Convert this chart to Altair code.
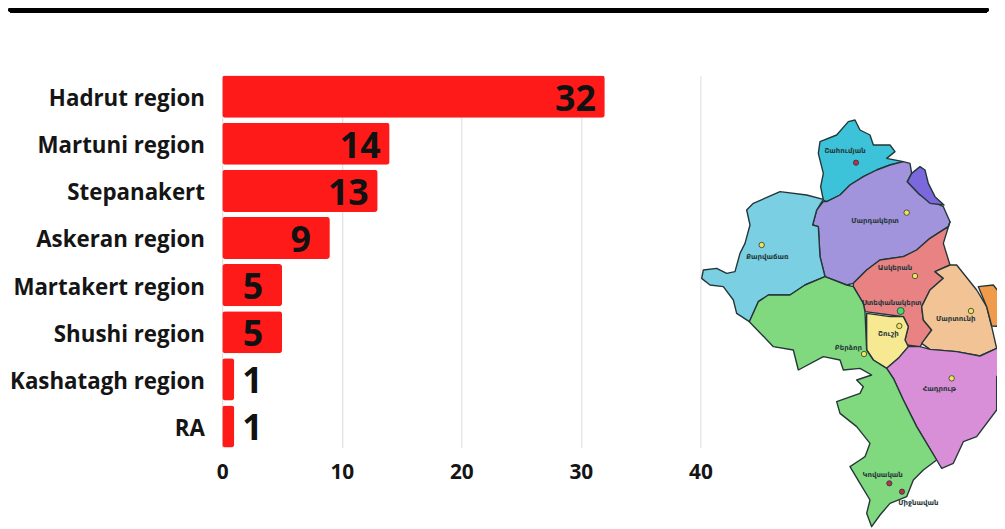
import altair as alt
import pandas as pd

categories = ["Hadrut region", "Martuni region", "Stepanakert", "Askeran region",
              "Martakert region", "Shushi region", "Kashatagh region", "RA"]
values = [32, 14, 13, 9, 5, 5, 1, 1]

# Map outlines as (x, y) in a 3x enlargement of the map area
region_names = ["Shahumyan", "Mardakert", "Karvachar", "Lake", "Askeran", "Martuni",
                "Outside", "Shushi", "Hadrut", "Kashatagh"]
region_colors = ["#3cc3d9", "#a293dd", "#7ad0e2", "#7a68dc", "#e98383", "#f2c394",
                 "#f09a4c", "#f6e992", "#d98fd8", "#81d97f"]
region_outlines = [
    [(400,270),(392,230),(400,190),(385,130),(390,95),(440,75),(475,35),(495,30),(510,60),(540,75),(550,105),(600,105),(615,125),(590,145),(640,155),(600,165),(560,180),(520,200),(480,225),(450,255),(410,275)],
    [(400,275),(410,275),(450,255),(480,225),(520,200),(560,180),(600,165),(640,155),(660,160),(665,190),(652,215),(690,255),(760,290),(780,335),(775,350),(720,385),(680,420),(640,440),(570,450),(530,480),(490,520),(470,525),(405,500),(390,440),(385,350),(368,345),(380,300)],
    [(400,268),(350,255),(270,245),(190,280),(170,300),(180,345),(165,400),(150,430),(135,485),(110,490),(80,475),(40,480),(35,505),(60,525),(100,530),(130,570),(140,610),(178,635),(205,575),(235,555),(300,555),(345,525),(405,500),(390,440),(385,350),(368,345),(380,300)],
    [(690,170),(705,180),(715,220),(735,260),(762,285),(720,280),(685,250),(652,215),(665,190)],
    [(780,335),(760,400),(780,465),(735,485),(760,505),(720,540),(695,590),(700,630),(725,660),(690,710),(650,705),(645,690),(655,650),(640,620),(600,615),(525,605),(520,580),(490,530),(490,520),(530,480),(570,450),(640,440),(680,420),(720,385),(775,350)],
    [(780,465),(800,465),(860,540),(890,590),(905,650),(920,715),(870,738),(800,725),(720,718),(695,700),(725,660),(700,630),(695,590),(720,540),(760,505),(735,485)],
    [(865,530),(910,525),(945,570),(945,650),(905,648),(890,590)],
    [(530,610),(600,620),(640,620),(655,650),(645,690),(655,710),(625,745),(590,775),(550,750),(530,720)],
    [(655,710),(690,710),(720,718),(800,725),(870,738),(920,715),(945,730),(945,770),(920,800),(920,900),(860,980),(820,995),(790,1060),(755,1075),(740,1050),(680,950),(640,870),(610,805),(590,775),(625,745)],
    [(178,635),(205,575),(235,555),(300,555),(345,525),(405,500),(470,525),(490,530),(520,580),(525,605),(530,720),(550,750),(590,775),(610,805),(640,870),(680,950),(740,1050),(700,1080),(670,1110),(650,1160),(600,1180),(570,1215),(545,1250),(530,1210),(540,1170),(510,1120),(480,1070),(510,1050),(525,1040),(540,1000),(500,950),(450,910),(440,875),(510,850),(520,830),(500,810),(545,795),(510,775),(460,780),(450,750),(400,740),(325,780),(310,720),(250,710)],
]

place_names = ["Շահումյան", "Մարդակերտ", "Քարվաճառ", "Ասկերան", "Ստեփանակերտ", "Մարտունի",
               "Շուշի", "Բերձոր", "Հադրութ", "Կովսական", "Միջնավան"]
place_x = [465, 555, 232, 615, 605, 797, 595, 475, 748, 578, 685]
place_y = [122, 332, 440, 475, 580, 628, 672, 715, 836, 1095, 1180]

town_x = [215, 650, 675, 843, 628, 522, 785]
town_y = [405, 308, 498, 603, 648, 732, 805]
capital_x = [632]
capital_y = [603]
other_x = [498, 598, 636]
other_y = [158, 1120, 1145]

W, H = 482, 375
LEFT, TOP = 216, 66
TOTAL_W, TOTAL_H = 997, 521
# The page fits the drawing into its 989px body, centred vertically
S = 989 / TOTAL_W
PAGE_X0 = 8
PAGE_Y0 = 8 + TOTAL_H * (1 - S) / 2
TX = -PAGE_X0 / S - LEFT
TY = -PAGE_Y0 / S - TOP


def ref_x(z):
    return z / 3 + 690


def ref_y(z):
    return z / 3 + 110


features = []
for name, outline in zip(region_names, region_outlines):
    ring = [[ref_x(a), ref_y(b)] for a, b in outline]
    ring.append(ring[0])
    features.append({"type": "Feature", "properties": {"name": name},
                     "geometry": {"type": "Polygon", "coordinates": [ring]}})

FONT = "Open Sans"
df = pd.DataFrame({"category": categories, "value": values})

x_scale = alt.Scale(domain=[0, 40], nice=False)
y_enc = alt.Y("category:N", sort=categories,
              scale=alt.Scale(paddingInner=5 / 47, paddingOuter=0, round=False),
              axis=alt.Axis(title=None, domain=False, ticks=False, grid=False,
                            labelFont=FONT, labelFontSize=22.5, labelFontWeight="bold",
                            labelColor="#151515", labelPadding=18, labelLimit=300, labelOffset=2.5))
x_enc = alt.X("value:Q", scale=x_scale,
              axis=alt.Axis(title=None, domain=False, ticks=False, grid=True,
                            gridColor="#dcdcdc", gridWidth=1, values=[0, 10, 20, 30, 40],
                            labelFont=FONT, labelFontSize=21, labelFontWeight="bold",
                            labelColor="#151515", labelPadding=14, labelFlush=False))

bars = alt.Chart(df).mark_bar(color="#ff1a1a", cornerRadius=3).encode(x=x_enc, y=y_enc)


def value_text(test, align, dx):
    return (alt.Chart(df).transform_filter(test)
            .mark_text(font=FONT, fontWeight="bold", fontSize=36, color="#111111",
                       align=align, baseline="middle", dx=dx, dy=3)
            .encode(x="value:Q", y=alt.Y("category:N", sort=categories), text="value:Q"))


labels_big = value_text("datum.value >= 10", "right", -9)
labels_mid = value_text("datum.value > 1 && datum.value < 10", "right", -19)
labels_one = value_text("datum.value == 1", "left", 8)

top_rule = alt.Chart(df).mark_rule(color="#000000", strokeWidth=5, strokeCap="round").encode(
    x=alt.value(-213), x2=alt.value(770), y=alt.value(-66))

bar_layer = alt.layer(bars, labels_big, labels_mid, labels_one, top_rule)

regions = (alt.Chart(alt.InlineData(values={"type": "FeatureCollection", "features": features},
                                    format=alt.DataFormat(type="json", property="features")))
           .mark_geoshape(stroke="#243638", strokeWidth=1.4, strokeJoin="round", clip=False)
           .encode(fill=alt.Fill("properties.name:N", legend=None,
                                 scale=alt.Scale(domain=region_names, range=region_colors)))
           .project(type="identity", scale=1 / S, translate=[TX, TY]))

# The map's own pixel-like scales, so that its places sit on its outlines
mx = alt.X("px:Q", axis=None, scale=alt.Scale(domain=[-TX * S, (W - TX) * S], nice=False, zero=False))
my = alt.Y("py:Q", axis=None, scale=alt.Scale(domain=[-TY * S, (H - TY) * S], nice=False, zero=False, reverse=True))


def dots(xs, ys, color, size):
    d = pd.DataFrame({"px": [ref_x(v) for v in xs], "py": [ref_y(v) for v in ys]})
    return alt.Chart(d).mark_circle(color=color, opacity=1, size=size, stroke="#2e3a2e",
                                    strokeWidth=0.8, clip=False).encode(x=mx, y=my)


towns = dots(town_x, town_y, "#efe35c", 30)
capital = dots(capital_x, capital_y, "#3fdc70", 50)
others = dots(other_x, other_y, "#b3305c", 28)

place_df = pd.DataFrame({"name": place_names, "px": [ref_x(v) for v in place_x],
                         "py": [ref_y(v) for v in place_y]})
place_text = alt.Chart(place_df).mark_text(
    font="DejaVu Sans", fontWeight="bold", fontSize=7, color="#26383a",
    align="center", baseline="middle").encode(x=mx, y=my, text="name:N")

map_layer = alt.layer(regions, towns, capital, others, place_text)

chart = (alt.layer(bar_layer, map_layer)
         .resolve_scale(x="independent", y="independent")
         .properties(width=W, height=H, background="#ffffff",
                     autosize=alt.AutoSizeParams(type="none"),
                     padding={"left": LEFT, "top": TOP, "right": TOTAL_W - LEFT - W,
                              "bottom": TOTAL_H - TOP - H})
         .configure_view(stroke=None))

chart.save("out.html", embed_options={"renderer": "svg", "actions": False})
